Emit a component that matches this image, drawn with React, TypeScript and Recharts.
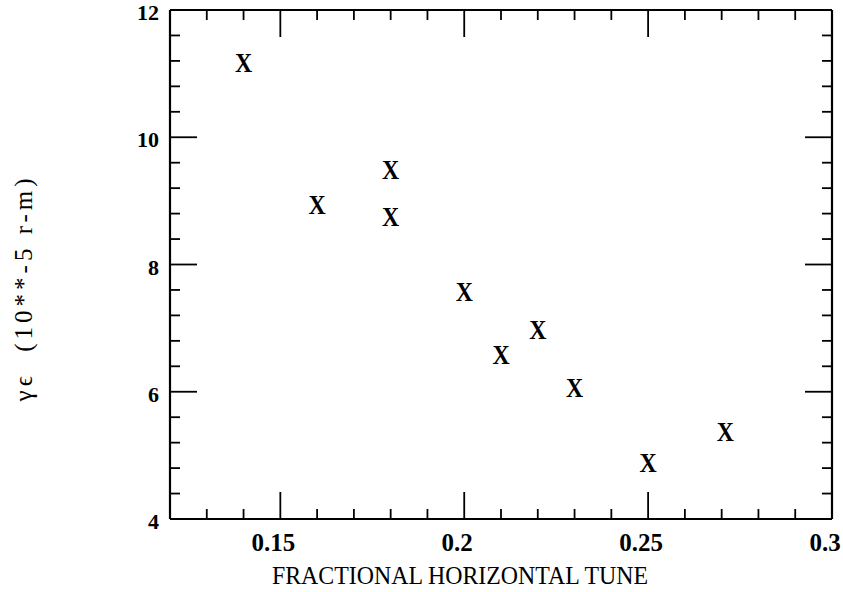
import React from "react";
import { ScatterChart, Scatter, XAxis, YAxis } from "recharts";

const tuneValues = [0.14, 0.16, 0.18, 0.18, 0.2, 0.21, 0.22, 0.23, 0.25, 0.271];
const emittanceValues = [11.17, 8.95, 9.5, 8.76, 7.57, 6.58, 6.98, 6.07, 4.89, 5.37];

const xTicks = [0.12, 0.13, 0.14, 0.15, 0.16, 0.17, 0.18, 0.19, 0.2, 0.21, 0.22, 0.23, 0.24, 0.25, 0.26, 0.27, 0.28, 0.29, 0.3];
const xMajorTicks = [0.15, 0.2, 0.25, 0.3];
const xTickLabels = ["0.15", "0.2", "0.25", "0.3"];

const yTicks = [4, 4.4, 4.8, 5.2, 5.6, 6, 6.4, 6.8, 7.2, 7.6, 8, 8.4, 8.8, 9.2, 9.6, 10, 10.4, 10.8, 11.2, 11.6, 12];
const yMajorTicks = [4, 6, 8, 10, 12];
const yTickLabels = ["4", "6", "8", "10", "12"];

const xTitle = "FRACTIONAL HORIZONTAL TUNE";
const yTitle = "γϵ  (10**-5 r-m)";

const data = tuneValues.map((t, i) => ({ x: t, y: emittanceValues[i] }));

const FONT = "'Liberation Serif', 'DejaVu Serif', serif";
const MAJOR = 27;
const MINOR = 10;

const majorIndex = (v: number, majors: number[]) =>
  majors.findIndex((m) => Math.abs(m - v) < 1e-9);

const makeXTick = (dir: number, showLabel: boolean) => (props: any) => {
  const { x, y, payload } = props;
  const idx = majorIndex(payload.value, xMajorTicks);
  const len = idx >= 0 ? MAJOR : MINOR;
  return (
    <g>
      <line x1={x} x2={x} y1={y} y2={y + dir * len} stroke="#000" strokeWidth={1.8} />
      {showLabel && idx >= 0 ? (
        <text x={x - 7} y={y + 32} textAnchor="middle" fontFamily={FONT} fontWeight="bold" fontSize={25} fill="#000">
          {xTickLabels[idx]}
        </text>
      ) : null}
    </g>
  );
};

const makeYTick = (dir: number, showLabel: boolean) => (props: any) => {
  const { x, y, payload } = props;
  const idx = majorIndex(payload.value, yMajorTicks);
  const len = idx >= 0 ? MAJOR : MINOR;
  return (
    <g>
      <line x1={x} x2={x + dir * len} y1={y} y2={y} stroke="#000" strokeWidth={1.8} />
      {showLabel && idx >= 0 ? (
        <text x={x - 11} y={y + 10} textAnchor="end" fontFamily={FONT} fontWeight="bold" fontSize={22} fill="#000">
          {yTickLabels[idx]}
        </text>
      ) : null}
    </g>
  );
};

const XMark = (props: any) => {
  const { cx, cy } = props;
  if (cx == null || cy == null) return null;
  return (
    <text
      transform={`translate(${cx},${cy}) scale(0.85,1)`}
      x={0}
      y={9.5}
      textAnchor="middle"
      fontFamily={FONT}
      fontWeight="bold"
      fontSize={28}
      fill="#000"
    >
      X
    </text>
  );
};

const NoMark = () => null;

export default function App() {
  return (
    <div style={{ position: "absolute", left: 0, top: 0, background: "#fff" }}>
      <ScatterChart width={843} height={592} margin={{ top: 9, right: 10, bottom: 0, left: 0 }}>
        <XAxis
          xAxisId="bottom"
          dataKey="x"
          type="number"
          domain={[0.12, 0.3]}
          ticks={xTicks}
          interval={0}
          height={73}
          tickSize={0}
          tickMargin={0}
          tickLine={false}
          axisLine={{ stroke: "#000", strokeWidth: 2.2 }}
          tick={makeXTick(-1, true)}
          label={{
            content: (p: any) => {
              const vb = p.viewBox || { x: 170, width: 662, y: 519 };
              return (
                <text
                  x={vb.x + vb.width * 0.438}
                  y={vb.y + 65}
                  textAnchor="middle"
                  fontFamily={FONT}
                  fontSize={25}
                  textLength={376}
                  lengthAdjust="spacingAndGlyphs"
                  fill="#000"
                >
                  {xTitle}
                </text>
              );
            },
          }}
        />
        <XAxis
          xAxisId="top"
          orientation="top"
          dataKey="x"
          type="number"
          domain={[0.12, 0.3]}
          ticks={xTicks}
          interval={0}
          height={1}
          tickSize={0}
          tickMargin={0}
          tickLine={false}
          axisLine={{ stroke: "#000", strokeWidth: 2.2 }}
          tick={makeXTick(1, false)}
        />
        <YAxis
          yAxisId="left"
          dataKey="y"
          type="number"
          domain={[4, 12]}
          ticks={yTicks}
          interval={0}
          width={170}
          tickSize={0}
          tickMargin={0}
          tickLine={false}
          axisLine={{ stroke: "#000", strokeWidth: 2.2 }}
          tick={makeYTick(1, true)}
          label={{
            content: (p: any) => {
              const vb = p.viewBox || { y: 10, height: 509 };
              const cx = 24;
              const cy = vb.y + vb.height * 0.546;
              return (
                <text
                  x={cx}
                  y={cy}
                  transform={`rotate(-90 ${cx} ${cy})`}
                  textAnchor="middle"
                  dominantBaseline="central"
                  fontFamily={FONT}
                  fontSize={25}
                  letterSpacing={4}
                  style={{ whiteSpace: "pre" }}
                  fill="#000"
                >
                  {yTitle}
                </text>
              );
            },
          }}
        />
        <YAxis
          yAxisId="right"
          orientation="right"
          dataKey="y"
          type="number"
          domain={[4, 12]}
          ticks={yTicks}
          interval={0}
          width={1}
          tickSize={0}
          tickMargin={0}
          tickLine={false}
          axisLine={{ stroke: "#000", strokeWidth: 2.2 }}
          tick={makeYTick(-1, false)}
        />
        <Scatter
          xAxisId="top"
          yAxisId="right"
          data={data}
          shape={<NoMark />}
          isAnimationActive={false}
        />
        <Scatter
          xAxisId="bottom"
          yAxisId="left"
          data={data}
          shape={<XMark />}
          isAnimationActive={false}
        />
      </ScatterChart>
    </div>
  );
}
